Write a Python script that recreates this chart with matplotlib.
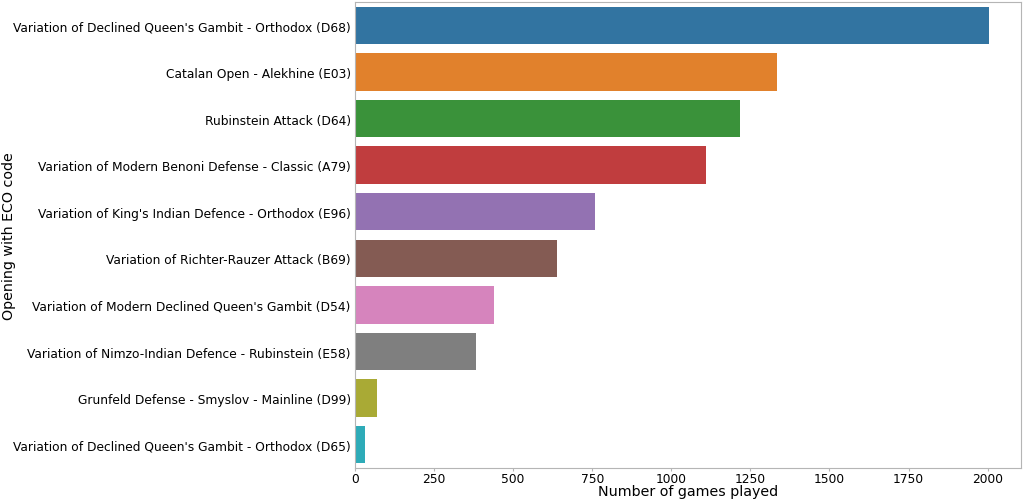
import matplotlib
matplotlib.use("Agg")
import matplotlib.pyplot as plt
import seaborn as sns
import pandas as pd

openings = [
    "Variation of Declined Queen's Gambit - Orthodox (D68)",
    "Catalan Open - Alekhine (E03)",
    "Rubinstein Attack (D64)",
    "Variation of Modern Benoni Defense - Classic (A79)",
    "Variation of King's Indian Defence - Orthodox (E96)",
    "Variation of Richter-Rauzer Attack (B69)",
    "Variation of Modern Declined Queen's Gambit (D54)",
    "Variation of Nimzo-Indian Defence - Rubinstein (E58)",
    "Grunfeld Defense - Smyslov - Mainline (D99)",
    "Variation of Declined Queen's Gambit - Orthodox (D65)",
]
games = [2005, 1335, 1216, 1109, 758, 640, 439, 381, 68, 31]

df = pd.DataFrame({"opening": openings, "games": games})

fig = plt.figure(figsize=(10.24, 5.02), dpi=100)
ax = fig.add_axes([0.3467, 0.0657, 0.6503, 0.9283])
sns.barplot(data=df, x="games", y="opening", hue="opening",
            palette=sns.color_palette()[:10], legend=False, ax=ax)

ax.set_xlabel("Number of games played", fontsize=10.3)
ax.set_ylabel("Opening with ECO code", fontsize=10.3)
ax.xaxis.set_label_coords(0.672, 0.033, transform=fig.transFigure)
ax.yaxis.set_label_coords(0.0155, 0.53, transform=fig.transFigure)
ax.tick_params(labelsize=8.8)
ax.tick_params(axis="y", length=0, pad=3)
ax.tick_params(axis="x", length=2, pad=0.7, color="#b5b5b5")
for s in ax.spines.values():
    s.set_color("#b5b5b5")

fig.savefig("out.png", dpi=100)
